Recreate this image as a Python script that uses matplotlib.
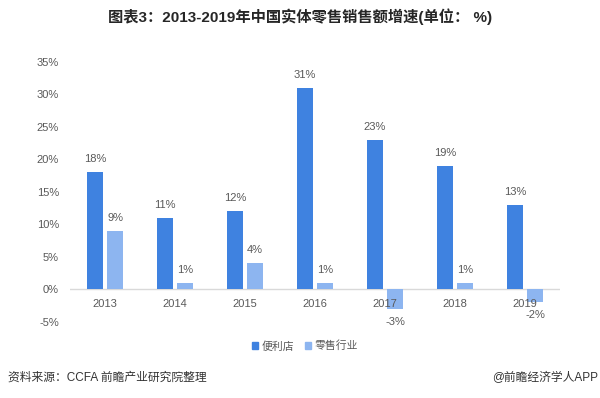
import numpy as np
import matplotlib
matplotlib.use('Agg')
import matplotlib.pyplot as plt
from matplotlib.patches import Patch

plt.rcParams['font.family'] = ['Liberation Sans', 'Noto Sans CJK SC', 'DejaVu Sans']

# --- data ---
years = ['2013', '2014', '2015', '2016', '2017', '2018', '2019']
store_growth = [18, 11, 12, 31, 23, 19, 13]      # 便利店
retail_growth = [9, 1, 4, 1, -3, 1, -2]          # 零售行业
y_ticks = [-5, 0, 5, 10, 15, 20, 25, 30, 35]

DARK = '#3F82E0'
LIGHT = '#8DB5F0'
TXT = '#595959'

fig = plt.figure(figsize=(6.0, 3.98), dpi=100)
ax = fig.add_axes([70 / 600, 1 - 321.8 / 398, 490 / 600, 260 / 398])

x = np.arange(len(years))
w = 0.22
off = 0.145
ax.bar(x - off, store_growth, w, color=DARK)
ax.bar(x + off, retail_growth, w, color=LIGHT)

# value labels
for xs, vals in [(x - off, store_growth), (x + off, retail_growth)]:
    for xi, v in zip(xs, vals):
        dy = 9.4 if v >= 0 else -9.2
        ax.annotate(f'{v}%', (xi, v), xytext=(0, dy), textcoords='offset points',
                    ha='center', va='center', fontsize=8, color=TXT)

# category labels sit just under the zero line
for xi, yr in zip(x, years):
    ax.annotate(yr, (xi, 0), xytext=(0, -10.8), textcoords='offset points',
                ha='center', va='center', fontsize=8, color=TXT)

ax.axhline(0, color='#D9D9D9', linewidth=1, zorder=0)
ax.set_xlim(-0.5, len(years) - 0.5)
ax.set_ylim(-5, 35)
ax.set_yticks(y_ticks)
ax.set_yticklabels([f'{t}%' for t in y_ticks])
ax.set_xticks([])
ax.tick_params(axis='y', length=0, pad=8, labelsize=8, labelcolor=TXT)
for s in ax.spines.values():
    s.set_visible(False)

fig.text(0.5, 1 - 17 / 398, '图表3：2013-2019年中国实体零售销售额增速(单位： %)',
         ha='center', va='center', fontsize=11, fontweight='bold', color='#262626')

handles = [Patch(color=DARK, label='便利店'), Patch(color=LIGHT, label='零售行业')]
fig.legend(handles=handles, loc='center', bbox_to_anchor=(0.508, 1 - 346 / 398), ncol=2,
           frameon=False, fontsize=7.8, handlelength=0.6, handleheight=0.6,
           handletextpad=0.3, columnspacing=1.0, labelcolor=TXT)

fig.text(8 / 600, 1 - 378 / 398, '资料来源：CCFA 前瞻产业研究院整理',
         ha='left', va='center', fontsize=8.5, color='#333333')
fig.text(598 / 600, 1 - 378 / 398, '@前瞻经济学人APP',
         ha='right', va='center', fontsize=8.5, color='#333333')

fig.savefig('out.png', dpi=100, facecolor='white')
